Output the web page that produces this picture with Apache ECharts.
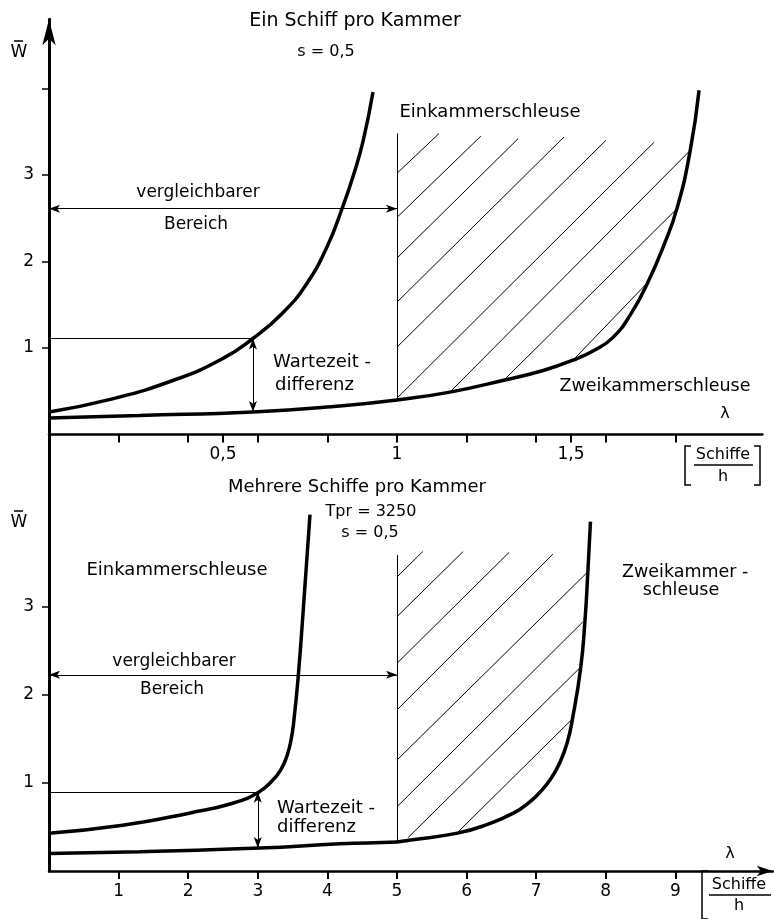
<!DOCTYPE html>
<html>
<head>
<meta charset="utf-8">
<title>Wartezeit Einkammer- / Zweikammerschleuse</title>
<script src="https://cdn.jsdelivr.net/npm/echarts@6/dist/echarts.min.js"></script>
<style>
  html, body { margin: 0; padding: 0; background: #fff; }
  #main { width: 774px; height: 919px; }
</style>
</head>
<body>
<div id="main"></div>
<script>
// ---- Daten oben: ein Schiff pro Kammer (lambda in Schiffe/h, W mittlere Wartezeit)
var topEinLambda = [0, 0.17, 0.36, 0.50, 0.586, 0.67, 0.74, 0.80, 0.842, 0.875, 0.903, 0.931]
var topEinW = [0.26, 0.40, 0.63, 0.88, 1.11, 1.40, 1.74, 2.18, 2.61, 3.00, 3.40, 3.96]
var topZweiLambda = [0, 0.26, 0.586, 0.836, 1.0, 1.152, 1.31, 1.42, 1.506, 1.57, 1.62, 1.67, 1.721, 1.765, 1.805, 1.842, 1.868]
var topZweiW = [0.19, 0.22, 0.26, 0.33, 0.40, 0.49, 0.63, 0.74, 0.86, 0.98, 1.12, 1.38, 1.76, 2.17, 2.62, 3.27, 3.98]
// Schraffur oben: [lambda1, W1, lambda2, W2]
var topHatch = [
  [1.0, 3.02, 1.121, 3.48],
  [1.0, 2.51, 1.241, 3.45],
  [1.0, 2.04, 1.348, 3.42],
  [1.0, 1.53, 1.480, 3.44],
  [1.0, 1.01, 1.600, 3.40],
  [1.0, 0.42, 1.739, 3.38],
  [1.152, 0.49, 1.839, 3.27],
  [1.31, 0.64, 1.807, 2.62],
  [1.506, 0.86, 1.721, 1.76]
]
var topBorder = [1.0, 0.40, 1.0, 3.48]
var topRange = [0, 2.61, 1.0, 2.61] // vergleichbarer Bereich
var topGuide = [0, 1.11, 0.586, 1.11]
var topDiff = [0.586, 1.11, 0.586, 0.26] // Wartezeitdifferenz
var topTicks = [0.2, 0.4, 0.5, 0.6, 0.8, 1.0, 1.2, 1.4, 1.5, 1.6, 1.8]
var topTickLabels = [0.5, 1.0, 1.5]
var topYTicks = [1, 2, 3, 4]
var topYLabels = [1, 2, 3]

// ---- Daten unten: mehrere Schiffe pro Kammer
var botEinLambda = [0, 1.06, 2.03, 2.64, 3.0, 3.2, 3.33, 3.42, 3.48, 3.52, 3.58, 3.65, 3.75]
var botEinW = [0.43, 0.52, 0.66, 0.77, 0.89, 1.02, 1.15, 1.31, 1.50, 1.72, 2.20, 2.93, 4.05]
var botZweiLambda = [0, 1.31, 3.03, 4.18, 5.0, 5.17, 5.87, 6.3, 6.68, 6.9, 7.06, 7.22, 7.35, 7.45, 7.52, 7.64, 7.70, 7.74, 7.78]
var botZweiW = [0.20, 0.22, 0.26, 0.31, 0.33, 0.35, 0.43, 0.53, 0.66, 0.78, 0.90, 1.06, 1.25, 1.47, 1.72, 2.31, 2.83, 3.36, 3.97]
var botHatch = [
  [5.0, 3.34, 5.37, 3.63],
  [5.0, 2.89, 5.95, 3.63],
  [5.0, 2.36, 6.61, 3.62],
  [5.0, 1.83, 7.24, 3.60],
  [5.0, 1.26, 7.73, 3.39],
  [5.0, 0.73, 7.67, 2.83],
  [5.16, 0.38, 7.63, 2.31],
  [5.86, 0.43, 7.51, 1.72]
]
var botBorder = [5.0, 0.33, 5.0, 3.59]
var botRange = [0, 2.23, 5.0, 2.23]
var botGuide = [0, 0.90, 3.0, 0.90]
var botDiff = [3.0, 0.90, 3.0, 0.26]
var botTicks = [1, 2, 3, 4, 5, 6, 7, 8, 9]
var botYTicks = [1, 2, 3]
var botYLabels = [1, 2, 3]

var FONT = '"DejaVu Sans", sans-serif'

function pairs(xs, ys) {
  return xs.map(function(x, i) { return [x, ys[i]] })
}
function seg(s) {
  return [{ coord: [s[0], s[1]] }, { coord: [s[2], s[3]] }]
}
function comma(v) {
  return String(v).replace('.', ',')
}

/** Hilfslinien (Schraffur, Begrenzung, Pfeile) als markLine */
function thinLines(hatch, border, guide) {
  return {
    silent: true,
    symbol: 'none',
    animation: false,
    label: { show: false },
    lineStyle: { color: '#000', width: 1, type: 'solid' },
    emphasis: { disabled: true },
    data: hatch.map(seg).concat([seg(border), seg(guide)])
  }
}
function arrows(range, diff) {
  return {
    silent: true,
    symbol: ['arrow', 'arrow'],
    symbolSize: [6, 11],
    animation: false,
    label: { show: false },
    lineStyle: { color: '#000', width: 1, type: 'solid' },
    emphasis: { disabled: true },
    data: [seg(range), seg(diff)]
  }
}

function axisX(gridIndex, max, ticks, labels, fmt, arrow) {
  return {
    type: 'value',
    gridIndex: gridIndex,
    min: 0,
    max: max,
    axisLine: {
      show: true,
      symbol: arrow ? ['none', 'arrow'] : 'none',
      symbolSize: [8, 16],
      lineStyle: { color: '#000', width: 2.5 }
    },
    axisTick: { show: true, length: 8, customValues: ticks, lineStyle: { color: '#000', width: 2 } },
    axisLabel: { color: '#000', fontSize: 17, fontFamily: FONT, margin: 12, customValues: labels, formatter: fmt },
    splitLine: { show: false }
  }
}
function axisY(gridIndex, max, ticks, labels, arrow) {
  return {
    type: 'value',
    gridIndex: gridIndex,
    min: 0,
    max: max,
    axisLine: {
      show: true,
      symbol: arrow ? ['none', 'arrow'] : 'none',
      symbolSize: [10, 26],
      lineStyle: { color: '#000', width: 3 }
    },
    axisTick: { show: true, length: 7, customValues: ticks, lineStyle: { color: '#000', width: 1.5 } },
    axisLabel: { color: '#000', fontSize: 17, fontFamily: FONT, margin: 15, customValues: labels },
    splitLine: { show: false }
  }
}
function curve(xIdx, xs, ys, extra) {
  var s = {
    type: 'line',
    xAxisIndex: xIdx,
    yAxisIndex: xIdx,
    data: pairs(xs, ys),
    smooth: 0.5,
    showSymbol: false,
    silent: true,
    lineStyle: { color: '#000', width: 3.5 }
  }
  return Object.assign(s, extra || {})
}

function txt(x, y, text, align, size) {
  return {
    type: 'text',
    x: x,
    y: y,
    silent: true,
    style: {
      text: text,
      font: (size || 18) + 'px ' + FONT,
      fill: '#000',
      align: align || 'center',
      textAlign: align || 'center',
      verticalAlign: 'middle',
      textVerticalAlign: 'middle'
    }
  }
}
function poly(points, w) {
  return {
    type: 'polyline',
    silent: true,
    shape: { points: points },
    style: { stroke: '#000', lineWidth: w || 1.5, fill: null }
  }
}

var chartObj = echarts.init(document.getElementById('main'), null, { renderer: 'canvas' })

var option = {
  animation: false,
  backgroundColor: '#fff',
  grid: [
    { left: 49, top: 19.3, width: 713.4, height: 415.2 },
    { left: 49, top: 434.5, width: 723.8, height: 436.5 }
  ],
  xAxis: [
    axisX(0, 2.05, topTicks, topTickLabels, comma, false),
    axisX(1, 10.4, botTicks, botTicks, comma, true)
  ],
  yAxis: [
    axisY(0, 4.8, topYTicks, topYLabels, true),
    axisY(1, 4.96, botYTicks, botYLabels, false)
  ],
  series: [
    curve(0, topEinLambda, topEinW, { markLine: thinLines(topHatch, topBorder, topGuide) }),
    curve(0, topZweiLambda, topZweiW, { markLine: arrows(topRange, topDiff) }),
    curve(1, botEinLambda, botEinW, { markLine: thinLines(botHatch, botBorder, botGuide) }),
    curve(1, botZweiLambda, botZweiW, { markLine: arrows(botRange, botDiff) })
  ],
  graphic: {
    elements: [
      // oben
      txt(355, 21, 'Ein Schiff pro Kammer', 'center', 19),
      txt(326, 52, 's = 0,5', 'center', 16),
      txt(19, 53, 'W', 'center', 17),
      poly([[14, 41], [23, 41]], 1.5),
      txt(490, 112, 'Einkammerschleuse'),
      txt(198, 193, 'vergleichbarer', 'center', 17),
      txt(196, 225, 'Bereich', 'center', 17),
      txt(273, 362, 'Wartezeit -', 'left'),
      txt(275, 385, 'differenz', 'left'),
      txt(655, 386, 'Zweikammerschleuse', 'center', 17.5),
      txt(725, 414, 'λ', 'center', 16),
      poly([[691, 446], [685, 446], [685, 485], [691, 485]]),
      poly([[754, 446], [760, 446], [760, 485], [754, 485]]),
      txt(723, 455, 'Schiffe', 'center', 16),
      poly([[694, 465], [753, 465]], 1.5),
      txt(723, 477, 'h', 'center', 16),
      // unten
      txt(357, 487, 'Mehrere Schiffe pro Kammer'),
      txt(371, 512, 'Tpr = 3250', 'center', 16),
      txt(370, 533, 's = 0,5', 'center', 16),
      txt(19, 523, 'W', 'center', 17),
      poly([[14, 511], [23, 511]], 1.5),
      txt(177, 570, 'Einkammerschleuse'),
      txt(622, 572, 'Zweikammer -', 'left', 17.5),
      txt(681, 590, 'schleuse', 'center', 17.5),
      txt(174, 662, 'vergleichbarer', 'center', 17),
      txt(172, 690, 'Bereich', 'center', 17),
      txt(277, 808, 'Wartezeit -', 'left'),
      txt(277, 827, 'differenz', 'left'),
      txt(730, 854, 'λ', 'center', 16),
      poly([[708, 871], [702, 871], [702, 919], [708, 919]]),
      txt(739, 885, 'Schiffe', 'center', 16),
      poly([[709, 895], [771, 895]], 1.5),
      txt(739, 906, 'h', 'center', 16)
    ]
  }
}

chartObj.setOption(option, true)
</script>
</body>
</html>
